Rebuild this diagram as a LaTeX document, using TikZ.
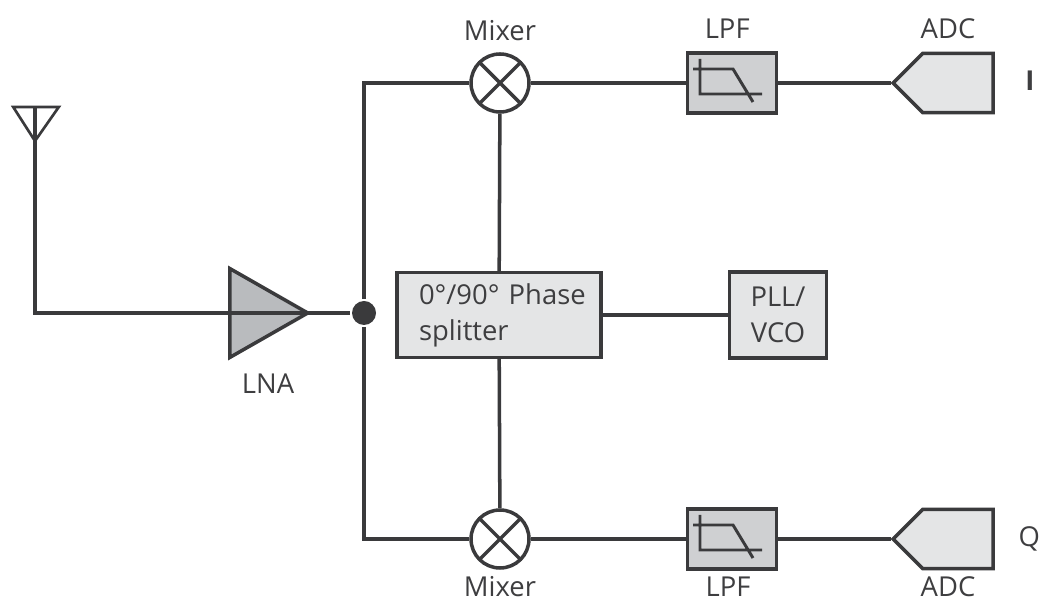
\documentclass[tikz,border=0pt]{standalone}
\usepackage{fontspec}
\setmainfont{Open Sans}
\usetikzlibrary{calc,positioning,shapes.geometric,shapes.symbols}
\definecolor{rfline}{RGB}{58,58,60}
\definecolor{rftext}{RGB}{62,62,64}
\definecolor{rfamp}{RGB}{185,187,190}
\definecolor{rflpf}{RGB}{207,208,210}
\definecolor{rfbox}{RGB}{228,229,230}

\begin{document}
\begin{tikzpicture}[
      node distance=0.25cm,
      line width=2.5pt, color=rfline,
      wire/.style={draw=rfline, line join=miter},
      lbl/.style={inner sep=0pt, text=rftext, font=\fontsize{19.5}{25.5}\selectfont},
      blockbox/.style={draw=rfline, fill=rfbox, inner sep=0pt, text=rftext, font=\fontsize{19.5}{25.5}\selectfont},
      mixer/.style={circle, draw=rfline, fill=white, minimum size=1.45cm, inner sep=0pt,
        path picture={\draw[line width=2.5pt] (path picture bounding box.north west) -- (path picture bounding box.south east)
          (path picture bounding box.north east) -- (path picture bounding box.south west);}},
      lpf/.style={draw=rfline, fill=rflpf, minimum width=2.23cm, minimum height=1.49cm, inner sep=0pt,
        path picture={\draw[line width=2.1pt, shift={(path picture bounding box.center)}]
          (-0.8,0.6) -- (-0.8,-0.275) -- (0.75,-0.275)
          (-0.975,0.35) -- (0.025,0.35) -- (0.525,-0.475);}},
      adc/.style={signal, signal to=west, signal from=nowhere, signal pointer angle=90, draw=rfline, fill=rfbox,
        minimum width=2.5cm, minimum height=1.48cm, inner sep=0pt},
      amp/.style={isosceles triangle, isosceles triangle apex angle=59.4, draw=rfline, fill=rfamp,
        minimum height=1.95cm, inner sep=0pt}
    ]
      \useasboundingbox (0,0) rectangle (26.05,15.075);

      % middle row
      \node[blockbox, minimum width=5.1cm, minimum height=2.12cm, align=left, text width=4.6cm] (split) at (12.475,7.2)
        {\hspace*{0.3cm}0°/90° Phase\\\hspace*{0.3cm}splitter};
      \node[blockbox, minimum width=2.42cm, minimum height=2.15cm, align=center] (pll) at (19.45,7.2) {PLL/\\VCO};
      \node[amp] (lna) at (6.39,7.25) {};
      \node[lbl] (lnalbl) at (6.7,5.475) {LNA};
      \node[circle, fill=rfline, minimum size=0.6cm, inner sep=0pt] (dot) at (9.1,7.25) {};

      % upper branch
      \node[mixer] (mixtop) at (12.5,13) {};
      \node[lpf] (lpftop) at (18.3,13) {};
      \node[adc] (adctop) at (23.95,13) {};
      \node[lbl] (mixtoplbl) at (12.5,14.3) {Mixer};
      \node[lbl] (lpftoplbl) at (18.18,14.35) {LPF};
      \node[lbl] (adctoplbl) at (23.7,14.35) {ADC};
      \node[lbl, font=\fontsize{19.5}{25.5}\selectfont\bfseries] (ilbl) at (25.75,13.05) {I};

      % lower branch
      \node[mixer] (mixbot) at (12.5,1.6) {};
      \node[lpf] (lpfbot) at (18.3,1.6) {};
      \node[adc] (adcbot) at (23.95,1.6) {};
      \node[lbl] (mixbotlbl) at (12.5,0.4) {Mixer};
      \node[lbl] (lpfbotlbl) at (18.2,0.4) {LPF};
      \node[lbl] (adcbotlbl) at (23.7,0.4) {ADC};
      \node[lbl] (qlbl) at (25.73,1.6) {Q};

      % antenna
      \coordinate (antleft) at (0.33,12.4);
      \coordinate (antright) at (1.47,12.4);
      \coordinate (anttop) at (0.875,12.4);
      \coordinate (anttip) at (0.875,11.55);
      \draw[wire, line width=1.9pt] (antleft) -- (antright) -- (anttip) -- cycle;

      \draw[wire] (anttop) |- (dot);
      \draw[wire] (dot) |- (mixtop);
      \draw[wire] (dot) |- (mixbot);
      \draw[wire] (mixtop) -- (lpftop);
      \draw[wire] (lpftop) -- (adctop.west);
      \draw[wire] (mixbot) -- (lpfbot);
      \draw[wire] (lpfbot) -- (adcbot.west);
      \draw[wire] (mixtop) -- (split);
      \draw[wire] (split) -- (mixbot);
      \draw[wire] (split) -- (pll);
    \end{tikzpicture}
\end{document}
